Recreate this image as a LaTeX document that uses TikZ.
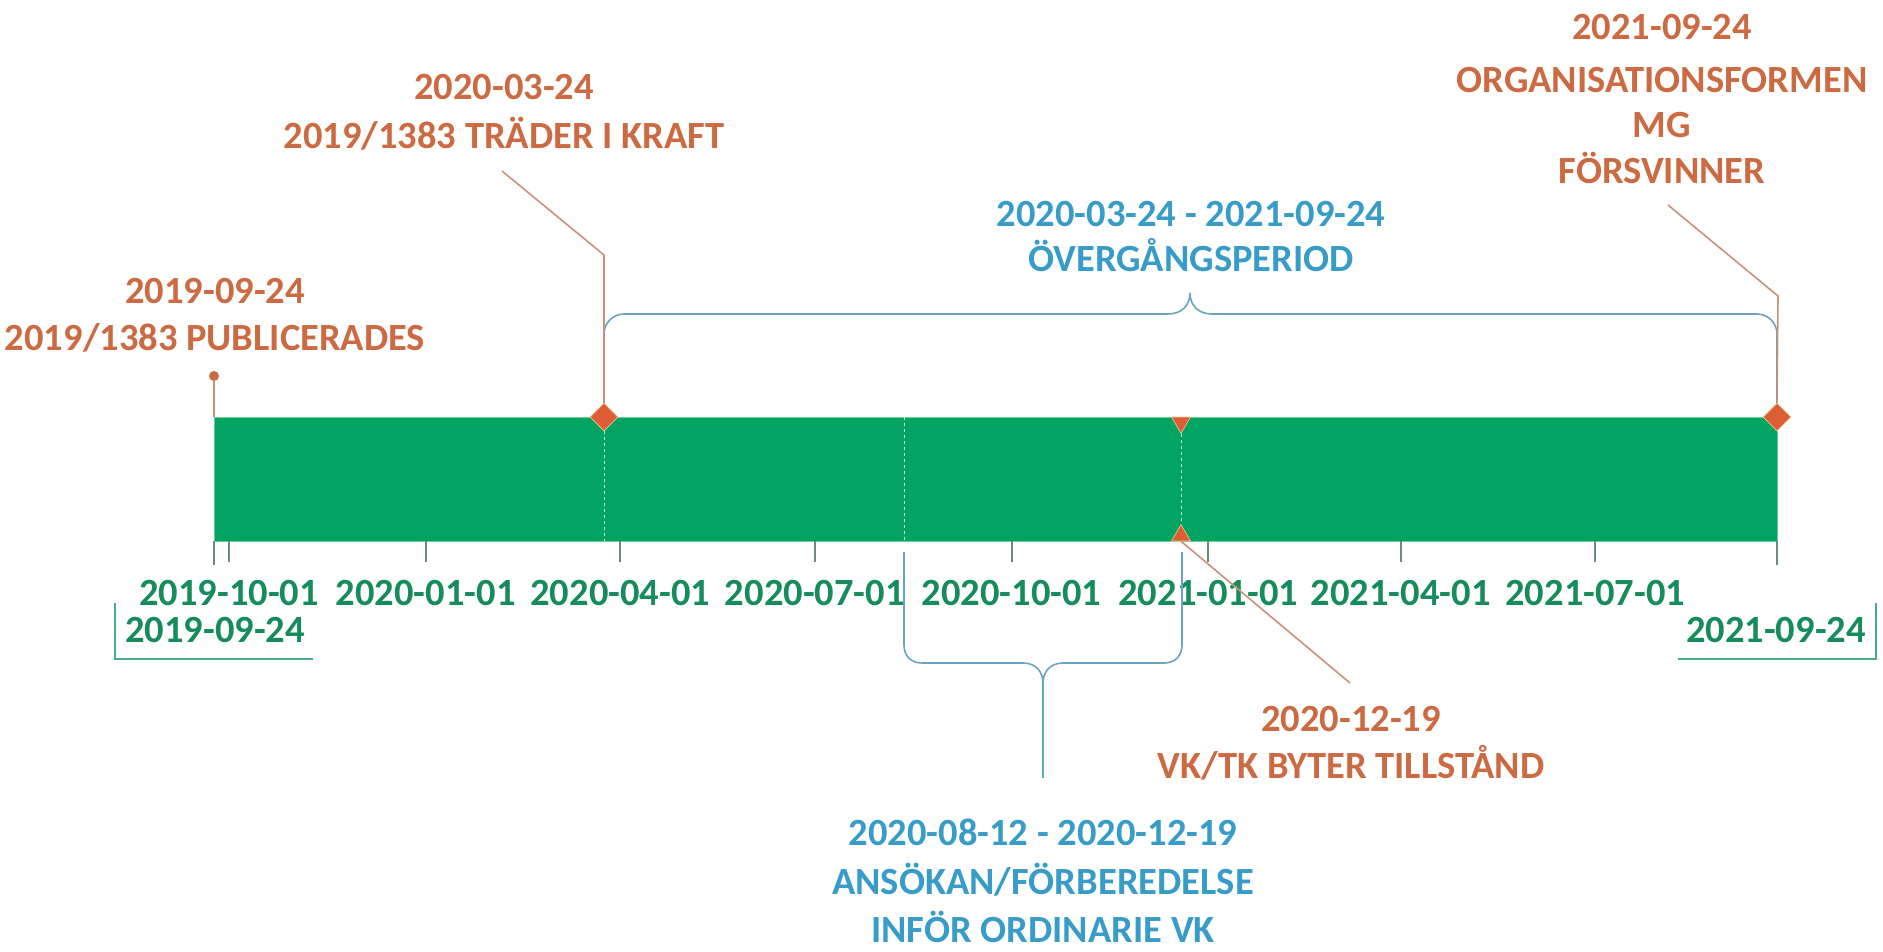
\documentclass[tikz,border=0pt]{standalone}
\usepackage{fontspec}
\setmainfont{Carlito}
\usetikzlibrary{shapes.geometric}
\definecolor{barg}{RGB}{3,163,98}
\definecolor{baredge}{RGB}{110,205,160}
\definecolor{txtg}{RGB}{22,140,92}
\definecolor{tickc}{RGB}{105,140,125}
\definecolor{brkg}{RGB}{70,175,135}
\definecolor{orgt}{RGB}{204,106,66}
\definecolor{leadc}{RGB}{200,145,120}
\definecolor{diac}{RGB}{221,94,52}
\definecolor{diab}{RGB}{240,200,150}
\definecolor{bluet}{RGB}{56,156,200}
\definecolor{bracec}{RGB}{105,165,190}
\begin{document}
\begin{tikzpicture}[x=1pt,y=-1pt,
  txt/.style={font=\fontsize{38.5}{46}\selectfont\bfseries, inner sep=0pt, anchor=base},
  og/.style={txt, text=orgt},
  bl/.style={txt, text=bluet},
  gr/.style={txt, text=txtg},
  tickln/.style={draw=tickc, line width=2pt},
  lead/.style={draw=leadc, line width=1.6pt},
  brc/.style={draw=bracec, line width=1.6pt},
  brk/.style={draw=brkg, line width=1.6pt},
  dmd/.style={diamond, fill=diac, draw=diab, line width=0.8pt, inner sep=0pt, minimum width=28pt, minimum height=28pt},
  tri/.style={regular polygon, regular polygon sides=3, fill=diac, draw=diab, line width=0.6pt, inner sep=0pt, minimum size=22pt},
  wdash/.style={draw=white!80!barg, line width=1pt, dash pattern=on 3pt off 3pt}
]
\useasboundingbox (0,0) rectangle (1883,951);

% bar
\fill[barg] (214,417) rectangle (1777,541);
\draw[baredge, line width=1pt] (214,417) rectangle (1777,541);
\coordinate (barTL) at (214,417);

% dashed markers inside bar
\draw[wdash] (604,431) -- (604,541);
\draw[wdash] (904,417) -- (904,541);
\draw[wdash] (1181,434) -- (1181,524);

% ticks
\draw[tickln] (214,541) -- (214,565);
\draw[tickln] (1777,541) -- (1777,565);
\foreach \x/\d in {229/2019-10-01, 425.7/2020-01-01, 620.3/2020-04-01, 814.8/2020-07-01, 1011.5/2020-10-01, 1208.3/2021-01-01, 1400.7/2021-04-01, 1595.3/2021-07-01}{
  \draw[tickln] (\x,541) -- (\x,562);
  \node[gr] (tl\d) at (\x,605) {\d};
}

% start / end labels
\node[gr, anchor=base west] (startlbl) at (125,642) {2019-09-24};
\node[gr, anchor=base east] (endlbl) at (1866,642) {2021-09-24};
\coordinate (sbA) at (115,603);
\coordinate (sbB) at (115,659);
\coordinate (sbC) at (313,659);
\draw[brk] (sbA) -- (sbB) -- (sbC);
\coordinate (ebA) at (1678,659);
\coordinate (ebB) at (1876,659);
\coordinate (ebC) at (1876,603);
\draw[brk] (ebA) -- (ebB) -- (ebC);

% top brace (overgangsperiod)
\coordinate (obL) at (604,405);
\coordinate (obR) at (1777,405);
\coordinate (obTip) at (1190,293);
\draw[brc] (obL) -- (604,334) .. controls (604,323) and (613,314) .. (624,314) -- (1168,314)
  .. controls (1182,314) and (1190,305) .. (obTip)
  .. controls (1190,305) and (1198,314) .. (1212,314) -- (1757,314)
  .. controls (1768,314) and (1777,323) .. (1777,334) -- (obR);
\node[bl] (ovA) at (1191,226) {2020-03-24 - 2021-09-24};
\node[bl] (ovB) at (1191,271) {ÖVERGÅNGSPERIOD};

% bottom brace (ansokan)
\coordinate (abL) at (904,552);
\coordinate (abR) at (1182,552);
\coordinate (abTip) at (1043,683);
\coordinate (abEnd) at (1043,778);
\draw[brc] (abL) -- (904,645) .. controls (904,656) and (911,663) .. (922,663) -- (1023,663)
  .. controls (1036,663) and (1043,672) .. (abTip)
  .. controls (1043,672) and (1050,663) .. (1063,663) -- (1164,663)
  .. controls (1175,663) and (1182,656) .. (1182,645) -- (abR);
\draw[brc] (abTip) -- (abEnd);
\node[bl] (anA) at (1043,845) {2020-08-12 - 2020-12-19};
\node[bl] (anB) at (1043,894) {ANSÖKAN/FÖRBEREDELSE};
\node[bl] (anC) at (1043,942) {INFÖR ORDINARIE VK};

% publicerades
\node[circle, fill=orgt, inner sep=0pt, minimum size=10pt] (dot) at (214,376) {};
\draw[lead] (dot) -- (barTL);
\node[og] (pubA) at (215,303) {2019-09-24};
\node[og] (pubB) at (215,350) {2019/1383 PUBLICERADES};

% trader i kraft
\node[dmd] (dA) at (604,417) {};
\coordinate (trTop) at (502,171);
\coordinate (trCorner) at (604,255);
\draw[lead] (trTop) -- (trCorner) -- (dA.north);
\node[og] (trA) at (504,99) {2020-03-24};
\node[og] (trB) at (504,148) {2019/1383 TRÄDER I KRAFT};

% MG forsvinner
\node[dmd] (dB) at (1777,417) {};
\coordinate (mgTop) at (1668,205);
\coordinate (mgCorner) at (1778,296);
\draw[lead] (mgTop) -- (mgCorner) -- (dB.north);
\node[og] (mgA) at (1662,39) {2021-09-24};
\node[og] (mgB) at (1662,92) {ORGANISATIONSFORMEN};
\node[og] (mgC) at (1662,137) {MG};
\node[og] (mgD) at (1662,183) {FÖRSVINNER};

% VK/TK byter tillstand
\node[tri, shape border rotate=180] (triA) at (1181,422.5) {};
\node[tri] (triB) at (1181,535.5) {};
\coordinate (vkEnd) at (1350,683);
\draw[lead] (triB.south) -- (vkEnd);
\node[og] (vkA) at (1351,731) {2020-12-19};
\node[og] (vkB) at (1351,778) {VK/TK BYTER TILLSTÅND};
\end{tikzpicture}
\end{document}
